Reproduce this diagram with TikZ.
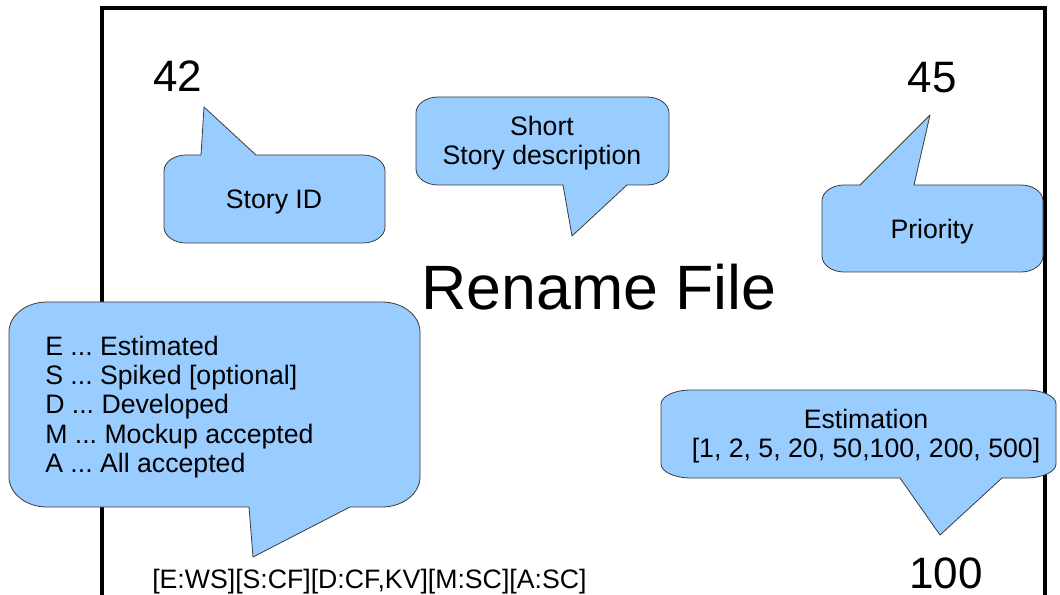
\documentclass[tikz,border=0pt]{standalone}
\usepackage{fontspec}
\setmainfont{Liberation Sans}
\frenchspacing
\definecolor{bubblefill}{RGB}{153,204,255}
\definecolor{bubbleline}{RGB}{60,60,60}
\tikzset{
  bubble/.style={fill=bubblefill, draw=bubbleline, line width=0.6pt, line join=round},
  txt/.style={inner sep=0pt, font=\fontsize{20}{22}\selectfont},
  bignum/.style={inner sep=0pt, font=\fontsize{33}{36}\selectfont},
  title/.style={inner sep=0pt, font=\fontsize{47}{50}\selectfont},
  frame/.style={draw=black, line width=2.3pt}
}
\newcommand\bubble[8]{%
 \draw[bubble] ({#1+#5},#2) #7 -- ({#3-#5},#2)
   .. controls ({#3-0.45*#5},#2) and (#3,{#2+0.45*#6}) .. (#3,{#2+#6})
   -- (#3,{#4-#6})
   .. controls (#3,{#4-0.45*#6}) and ({#3-0.45*#5},#4) .. ({#3-#5},#4)
   #8 -- ({#1+#5},#4)
   .. controls ({#1+0.45*#5},#4) and (#1,{#4-0.45*#6}) .. (#1,{#4-#6})
   -- (#1,{#2+#6})
   .. controls (#1,{#2+0.45*#6}) and ({#1+0.45*#5},#2) .. ({#1+#5},#2) -- cycle;}
\begin{document}
\begin{tikzpicture}[x=0.75pt,y=-0.75pt]
\useasboundingbox (0,0) rectangle (1060,595);
\clip (0,0) rectangle (1060,595);
\fill[white] (0,0) rectangle (1060,595);
% card frame
\draw[frame] (102,620) -- (102,8) -- (1045,8) -- (1045,620);
% bubbles
\bubble{164}{155}{385}{243}{22}{16}{-- (201,155) -- (204,107) -- (256,155)}{}
\bubble{416}{97}{669}{185}{22}{16}{}{-- (627,185) -- (572,236) -- (563,185)}
\bubble{822}{185}{1043}{272}{22}{16}{-- (860,185) -- (930,115) -- (914,185)}{}
\bubble{9}{302}{420}{507}{38}{30}{}{-- (350,507) -- (253,557) -- (249,507)}
\bubble{661}{390}{1056}{478}{30}{14}{}{-- (1002,478) -- (940,535) -- (900,478)}
% texts
\node[bignum] (n42) at (178,76) {42};
\node[bignum] (n45) at (932,78) {45};
\node[bignum] (n100) at (946,573) {100};
\node[title] (title) at (599,287) {Rename File};
\node[txt] (storyid) at (274,202) {Story ID};
\node[txt, align=center] (short) at (542,143) {Short\\Story description};
\node[txt] (prio) at (932,232) {Priority};
\node[txt, align=center] (est) at (866,436) {Estimation\\{[}1, 2, 5, 20, 50,100, 200, 500]};
\node[txt, align=left, anchor=west] (legend) at (45,407) {E ... Estimated\\S ... Spiked [optional]\\D ... Developed\\M ... Mockup accepted\\A ... All accepted};
\node[txt, anchor=west] (code) at (152,582) {[E:WS][S:CF][D:CF,KV][M:SC][A:SC]};
\end{tikzpicture}
\end{document}
